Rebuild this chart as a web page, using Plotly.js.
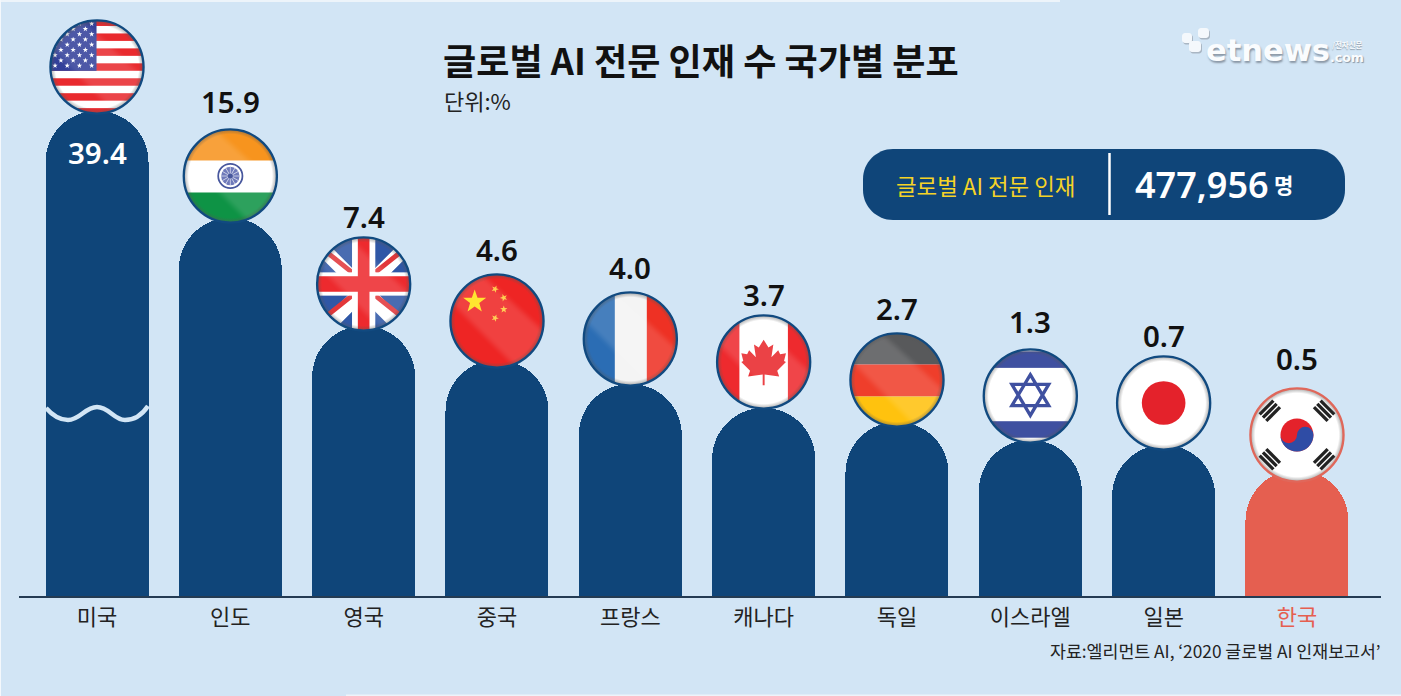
<!DOCTYPE html>
<html>
<head>
<meta charset="utf-8">
<script src="https://cdn.plot.ly/plotly-3.0.1.min.js"></script>
<style>html,body{margin:0;padding:0;background:#D2E5F5;overflow:hidden}</style>
</head>
<body>
<div id="chart" style="width:1401px;height:696px"></div>
<script>
// ---- data ----
const countries = ['미국','인도','영국','중국','프랑스','캐나다','독일','이스라엘','일본','한국'];
const shares = [39.4,15.9,7.4,4.6,4.0,3.7,2.7,1.3,0.7,0.5];
// the graphic is not to scale: drawn heights of the pillars
const pillarHeights = [485,378,270,236,212,188,174,156,151,126];
const flagKeys = ['us','in','gb','cn','fr','ca','de','il','jp','kr'];
const titleText = '글로벌 AI 전문 인재 수 국가별 분포';
const unitText = '단위:%';
const sourceText = '자료:엘리먼트 AI, ‘2020 글로벌 AI 인재보고서’';
const totalLabel = '글로벌 AI 전문 인재';
const totalValue = '477,956';
const totalUnit = '명';

// ---- presentation ----
const W = 1401, H = 696, L = 19, R = 1381, BASE = 596, STEP = 133.33, X0 = 97;
const NAVY = '#0F4579', CORAL = '#E55F50', BG = '#D2E5F5';
const KR_FONT = '"Noto Sans CJK KR","Noto Sans",sans-serif';
const NUM_FONT = '"Noto Sans","Open Sans",sans-serif';
const LOGO_FONT = '"DejaVu Sans",sans-serif';
const flagLift = [44,42,42,39,45,46,42,44,42,35];
const labelLift = [-41,117,110,111,117,114,114,119,110,112];
const px = v => (v - L) / (R - L);      // page x -> paper fraction
const py = v => (BASE - v) / BASE;      // page y -> paper fraction

function star(cx, cy, r, fill, rot) {
  rot = rot || 0;
  let p = [];
  for (let i = 0; i < 10; i++) {
    const a = -Math.PI / 2 + rot + i * Math.PI / 5, rr = i % 2 ? r * 0.4 : r;
    p.push((cx + rr * Math.cos(a)).toFixed(2) + ',' + (cy + rr * Math.sin(a)).toFixed(2));
  }
  return `<polygon points="${p.join(' ')}" fill="${fill}"/>`;
}
function rect(x, y, w, h, f) { return `<rect x="${x}" y="${y}" width="${w}" height="${h}" fill="${f}"/>`; }

const art = {
  us() {
    let s = rect(0, 0, 100, 100, '#fff');
    const h = 7.7;
    for (let i = 0; i < 13; i += 2) s += rect(0, i * h, 100, h, '#E92A2E');
    s += rect(0, 0, 49.5, 54, '#33409A');
    for (let r = 0; r < 9; r++) for (let c = 0; c < 4; c++) {
      const sx = (r % 2 ? 38 : 44.5) - c * 12.6;
      if (sx > 3) s += star(sx, 5.4 + r * 5.4, 2.9, '#fff');
    }
    return s;
  },
  in() {
    let s = rect(0, 0, 100, 100, '#fff') + rect(0, 0, 100, 34, '#F7941E') + rect(0, 67, 100, 33, '#0E9345');
    s += `<circle cx="50" cy="50" r="12.5" fill="#fff" stroke="#2C3E8F" stroke-width="1.8"/><circle cx="50" cy="50" r="9.5" fill="#5A67B0"/>`;
    for (let a = 0; a < 180; a += 30) s += `<path d="M40.5,50H59.5" stroke="#fff" stroke-width=".6" transform="rotate(${a} 50 50)"/>`;
    s += `<circle cx="50" cy="50" r="2.6" fill="#2C3E8F"/>`;
    return s;
  },
  gb() {
    let s = rect(0, 0, 100, 100, '#2F57A6');
    s += `<path d="M0,6L94,100M100,6L6,100" stroke="#fff" stroke-width="15"/>`;
    s += `<path d="M8,14L38,38M92,14L62,38M38,62L8,86M62,62L92,86" stroke="#E2373A" stroke-width="5"/>`;
    s += rect(38, 0, 24, 100, '#fff') + rect(0, 38, 100, 24, '#fff');
    s += rect(44, 0, 12, 100, '#ED2A2E') + rect(0, 42, 100, 16, '#ED2A2E');
    return s;
  },
  cn() {
    return rect(0, 0, 100, 100, '#EE2524') + star(27, 30, 12.5, '#FFE012') + star(48, 17, 4, '#FFC93C', .4)
      + star(57, 26, 4, '#FFC93C', .9) + star(57, 38, 4, '#FFC93C', 0) + star(48, 47, 4, '#FFC93C', .4);
  },
  fr() { return rect(0, 0, 100, 100, '#F4F4F4') + rect(0, 0, 34, 100, '#2B6DB4') + rect(67, 0, 33, 100, '#EE3124'); },
  ca() {
    return rect(0, 0, 100, 100, '#fff') + rect(0, 0, 25, 100, '#EE2A2E') + rect(75, 0, 25, 100, '#EE2A2E')
      + `<polygon fill="#E8262B" points="50,27 55,35 60,32 58,45 65,38 67,42 73,41 71,49 73,50 64,59 66,65 51,63 51,74 49,74 49,63 34,65 36,59 27,50 29,49 27,41 33,42 35,38 42,45 40,32 45,35"/>`;
  },
  de() { return rect(0, 0, 100, 34, '#58595B') + rect(0, 34, 100, 33, '#EF3E2B') + rect(0, 67, 100, 33, '#FFC20E'); },
  il() {
    return rect(0, 0, 100, 100, '#fff') + rect(0, 4, 100, 17, '#3F50A0') + rect(0, 76, 100, 17, '#3F50A0')
      + `<path d="M50,28L69,60H31ZM50,70L31,38H69Z" fill="none" stroke="#3F50A0" stroke-width="3.4"/>`;
  },
  jp() { return rect(0, 0, 100, 100, '#fff') + `<circle cx="50" cy="50" r="22.5" fill="#E4222B"/>`; },
  kr() {
    let s = rect(0, 0, 100, 100, '#fff');
    s += `<circle cx="50" cy="50" r="17" fill="#E4222B"/>`;
    s += `<path d="M33,50A17,17 0 0 0 67,50A8.5,8.5 0 0 0 50,50A8.5,8.5 0 0 1 33,50Z" fill="#2F4CA5"/>`;
    const tri = (cx, cy, deg) => {
      let g = '';
      for (let i = -1; i <= 1; i++) g += `<rect x="${-10}" y="${i * 4.8 - 1.7}" width="20" height="3.4" fill="#222"/>`;
      return `<g transform="translate(${cx},${cy}) rotate(${deg})">${g}</g>`;
    };
    return s + tri(22, 25, -45) + tri(78, 25, 45) + tri(22, 75, 45) + tri(78, 75, -45);
  }
};
const gloss = k => ['jp','kr','il'].includes(k) ? '' :
  '<polygon points="0,28 32,0 100,62 72,100" fill="#fff" opacity=".13" filter="url(#b)"/>';
function flagSVG(k) {
  const ring = k === 'kr' ? '#E0675A' : '#114A80';
  const svg = `<svg xmlns="http://www.w3.org/2000/svg" width="200" height="200" viewBox="0 0 100 100">
<defs><clipPath id="c"><circle cx="50" cy="50" r="48"/></clipPath><filter id="b" x="-20%" y="-20%" width="140%" height="140%"><feGaussianBlur stdDeviation="3"/></filter>
<radialGradient id="g" cx="50%" cy="50%" r="50%"><stop offset="0.86" stop-color="#555" stop-opacity="0"/><stop offset="0.97" stop-color="#555" stop-opacity=".55"/><stop offset="1" stop-color="#fff" stop-opacity=".6"/></radialGradient></defs>
<g clip-path="url(#c)">${art[k]()}${gloss(k)}<rect width="100" height="100" fill="url(#g)"/></g>
<circle cx="50" cy="50" r="48" fill="none" stroke="${ring}" stroke-width="2.4"/></svg>`;
  return 'data:image/svg+xml;charset=utf-8,' + encodeURIComponent(svg);
}

const xs = countries.map((_, i) => i);
const colors = countries.map(c => c === '한국' ? CORAL : NAVY);
const trace = {
  type: 'bar', x: xs, y: pillarHeights, width: 103 / STEP,
  marker: { color: colors, cornerradius: 51, line: { width: 0 } },
  hoverinfo: 'skip', showlegend: false
};

function rounded(x0, y0, x1, y1, r) {
  const X = px, Y = py;
  const k = r * 0.45;
  return `M${X(x0 + r)},${Y(y0)}L${X(x1 - r)},${Y(y0)}C${X(x1 - k)},${Y(y0)} ${X(x1)},${Y(y0 + k)} ${X(x1)},${Y(y0 + r)}` +
    `L${X(x1)},${Y(y1 - r)}C${X(x1)},${Y(y1 - k)} ${X(x1 - k)},${Y(y1)} ${X(x1 - r)},${Y(y1)}L${X(x0 + r)},${Y(y1)}` +
    `C${X(x0 + k)},${Y(y1)} ${X(x0)},${Y(y1 - k)} ${X(x0)},${Y(y1 - r)}L${X(x0)},${Y(y0 + r)}C${X(x0)},${Y(y0 + k)} ${X(x0 + k)},${Y(y0)} ${X(x0 + r)},${Y(y0)}Z`;
}
const pshape = (path, fill, line) => ({
  type: 'path', xref: 'paper', yref: 'paper', path, fillcolor: fill || 'rgba(0,0,0,0)',
  line: line || { width: 0 }
});
const wave = [[46,408],[53,416,60,420,68,420],[80,420,85,407,97,407],[109,407,114,420,125,420],[135,420,142,415,148,406]];
const wavePath = 'M' + px(wave[0][0]) + ',' + py(wave[0][1]) + wave.slice(1).map(a =>
  `C${px(a[0])},${py(a[1])} ${px(a[2])},${py(a[3])} ${px(a[4])},${py(a[5])}`).join('');
const band = (x0, x1, y0, y1, c) => ({ type: 'rect', xref: 'paper', yref: 'paper', x0: px(x0), x1: px(x1), y0: py(y0), y1: py(y1), fillcolor: c, line: { width: 0 } });
const logoSquares = [[1182,33,1192,43],[1189,41,1201,52],[1198,28,1209,38]];

const shapes = [
  pshape(wavePath, null, { color: BG, width: 4.5 }),
  pshape(rounded(863, 149, 1345, 220, 30), NAVY),
  { type: 'line', xref: 'paper', yref: 'paper', x0: px(1109.5), x1: px(1109.5), y0: py(153), y1: py(215), line: { color: '#fff', width: 2.5 } },
  ...logoSquares.map(s => pshape(rounded(s[0] + 1, s[1] + 1.5, s[2] + 1, s[3] + 1.5, 3), '#A9B6C3')),
  ...logoSquares.map(s => pshape(rounded(s[0], s[1], s[2], s[3], 3), '#F4F8FC')),
  band(0, 1060, 0, 2, '#EDF4FA'),
  band(0, 1, 0, 696, '#F4F8FC'),
  band(346, 1401, 694.6, 696, '#EDF4FA')
];

const images = countries.map((c, i) => ({
  source: flagSVG(flagKeys[i]), xref: 'x', yref: 'y', x: i, y: pillarHeights[i] + flagLift[i],
  sizex: 97 / STEP, sizey: 97, xanchor: 'center', yanchor: 'middle', sizing: 'contain', layer: 'above'
}));

const note = (x, y, text, font, extra) => Object.assign({
  xref: 'paper', yref: 'paper', x: px(x), y: py(y), text, showarrow: false,
  xanchor: 'left', yanchor: 'middle', align: 'left', font
}, extra || {});

const annotations = shares.map((v, i) => ({
  xref: 'x', yref: 'y', x: i, y: pillarHeights[i] + labelLift[i], text: v.toFixed(1), showarrow: false,
  xanchor: 'center', yanchor: 'middle',
  font: { family: NUM_FONT, size: 29.5, weight: 600, color: i === 0 ? '#fff' : '#111' }
}));
annotations.push(
  note(442, 100, unitText, { family: KR_FONT, size: 22, color: '#222' }),
  note(1383, 650, sourceText, { family: KR_FONT, size: 17.3, color: '#222' }, { xanchor: 'right' }),
  note(985.5, 185, totalLabel, { family: KR_FONT, size: 22.4, color: '#F5D327' }, { xanchor: 'center' }),
  note(1201.5, 184, totalValue, { family: NUM_FONT, size: 36, weight: 600, color: '#fff' }, { xanchor: 'center' }),
  note(1283, 184, totalUnit, { family: KR_FONT, size: 21, weight: 700, color: '#fff' }, { xanchor: 'center' }),
  note(1204, 50, 'etnews', { family: LOGO_FONT, size: 30.5, weight: 700, color: '#FAFCFE', shadow: '1px 2px 2px #8a97a5' }),
  note(1328, 57, '.com', { family: LOGO_FONT, size: 12.5, weight: 700, color: '#FAFCFE', shadow: '1px 1px 1px #8a97a5' }),
  note(1330, 44, '/전자신문', { family: KR_FONT, size: 7.5, weight: 700, color: '#FAFCFE', shadow: '0 1px 1px #8a97a5' })
);

const tickText = countries.map((c, i) => colors[i] === CORAL ? `<span style="color:${CORAL}">${c}</span>` : c);

const layout = {
  width: W, height: H, autosize: false,
  margin: { l: L, r: W - R, t: 0, b: H - BASE, pad: 0 },
  paper_bgcolor: BG, plot_bgcolor: BG,
  showlegend: false, hovermode: false, bargap: 0,
  title: { text: titleText, x: 443 / W, xanchor: 'left', xref: 'container', y: 1 - 62 / H, yanchor: 'middle', yref: 'container',
    font: { family: KR_FONT, size: 36.1, weight: 700, color: '#111' } },
  xaxis: {
    type: 'linear', range: [(L - X0) / STEP, (R - X0) / STEP],
    tickmode: 'array', tickvals: xs, ticktext: tickText, ticks: '', showgrid: false, zeroline: false,
    showline: true, linecolor: '#243B53', linewidth: 1.5, ticklabelstandoff: 1,
    tickfont: { family: KR_FONT, size: 22, color: '#222' }, fixedrange: true
  },
  yaxis: { range: [0, BASE], visible: false, showgrid: false, zeroline: false, fixedrange: true },
  shapes, images, annotations
};
Plotly.newPlot('chart', [trace], layout, { displayModeBar: false, responsive: false, staticPlot: true });
</script>
</body>
</html>
